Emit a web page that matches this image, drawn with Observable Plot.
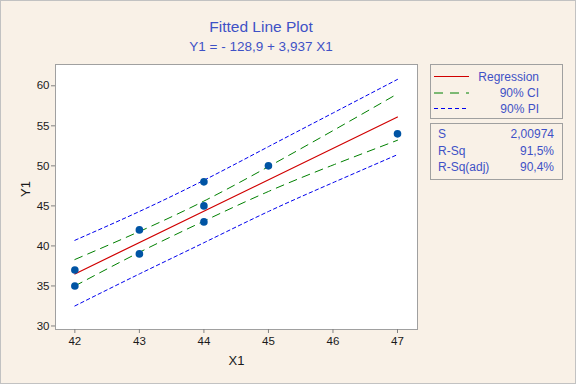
<!DOCTYPE html>
<html>
<head>
<meta charset="utf-8">
<script src="https://cdn.jsdelivr.net/npm/d3@7"></script>
<script src="https://cdn.jsdelivr.net/npm/@observablehq/plot@0.6"></script>
<style>
  html, body { margin: 0; padding: 0; }
  body { width: 576px; height: 384px; overflow: hidden; background: #F9F1E7; }
  #wrap { position: relative; width: 576px; height: 384px; background: #F9F1E7; font-family: "Liberation Sans", Arial, sans-serif; }
  #chart, #overlay { position: absolute; left: 0; top: 0; }
  #border { position: absolute; left: 0; top: 0; width: 576px; height: 384px; box-sizing: border-box; border: 1px solid #c2c2c2; pointer-events: none; }
</style>
</head>
<body>
<div id="wrap">
  <div id="chart"></div>
  <svg id="overlay" width="576" height="384"></svg>
  <div id="border"></div>
</div>
<script>
// ---- data ----
const xPoints = [42, 42, 43, 43, 44, 44, 44, 45, 47];
const yPoints = [35, 37, 39, 42, 43, 45, 48, 50, 54];

const regX = [42, 47];
const regY = [36.5, 56.1];

const bandX   = [42, 43, 44, 45, 46, 47];
const ciUpper = [38.3, 41.8, 45.6, 49.9, 54.4, 59.0];
const ciLower = [35.0, 39.2, 43.1, 46.8, 50.1, 53.2];
const piUpper = [40.7, 44.3, 48.2, 52.4, 56.6, 60.8];
const piLower = [32.5, 36.5, 40.4, 44.3, 47.9, 51.4];

const xTicks = [42, 43, 44, 45, 46, 47];
const yTicks = [30, 35, 40, 45, 50, 55, 60];

const titleText = "Fitted Line Plot";
const subtitleText = "Y1 = - 128,9 + 3,937 X1";
const xLabel = "X1";
const yLabel = "Y1";
const legendLabels = ["Regression", "90% CI", "90% PI"];
const statNames = ["S", "R-Sq", "R-Sq(adj)"];
const statValues = ["2,00974", "91,5%", "90,4%"];

// ---- build tables ----
const pts = xPoints.map((x, i) => ({x, y: yPoints[i]}));
const reg = regX.map((x, i) => ({x, y: regY[i]}));
const band = arr => bandX.map((x, i) => ({x, y: arr[i]}));

const fontFamily = '"Liberation Sans", Arial, sans-serif';

const chart = Plot.plot({
  width: 576,
  height: 384,
  marginLeft: 55,
  marginRight: 159,
  marginTop: 64,
  marginBottom: 55,
  style: {background: "transparent", fontFamily, fontSize: "11.5px", color: "#1a1a1a", overflow: "visible"},
  x: {domain: [41.7, 47.31]},
  y: {domain: [29.56, 62.66]},
  marks: [
    Plot.frame({fill: "white", stroke: "#a0a0a0"}),
    Plot.axisX(xTicks, {tickSize: 4, tickPadding: 3, stroke: "#808080", fill: "#1a1a1a", label: null}),
    Plot.axisY(yTicks, {tickSize: 4, tickPadding: 2, stroke: "#808080", fill: "#1a1a1a", label: null}),
    Plot.line(band(piUpper), {x: "x", y: "y", stroke: "#0000EE", strokeWidth: 1, strokeDasharray: "3.5,3", curve: "natural"}),
    Plot.line(band(piLower), {x: "x", y: "y", stroke: "#0000EE", strokeWidth: 1, strokeDasharray: "3.5,3", curve: "natural"}),
    Plot.line(band(ciUpper), {x: "x", y: "y", stroke: "#008000", strokeWidth: 1, strokeDasharray: "8,6", curve: "natural"}),
    Plot.line(band(ciLower), {x: "x", y: "y", stroke: "#008000", strokeWidth: 1, strokeDasharray: "8,6", curve: "natural"}),
    Plot.line(reg, {x: "x", y: "y", stroke: "#D00000", strokeWidth: 1.2}),
    Plot.dot(pts, {x: "x", y: "y", r: 3.8, fill: "#0054A4", stroke: "none"}),
    Plot.text([xLabel], {frameAnchor: "bottom", dy: 31, text: d => d, fontSize: 13, fill: "#1a1a1a", lineAnchor: "middle"}),
    Plot.text([yLabel], {frameAnchor: "left", dx: -30, text: d => d, fontSize: 13, fill: "#1a1a1a", rotate: -90, lineAnchor: "middle"})
  ]
});
document.getElementById("chart").appendChild(chart);

// ---- title, legend and statistics box ----
const ov = d3.select("#overlay").style("font-family", fontFamily);
const blue = "#3F51C6";

ov.append("text").attr("x", 261).attr("y", 31.5).attr("text-anchor", "middle")
  .attr("font-size", 15.5).attr("fill", blue).text(titleText);
ov.append("text").attr("x", 261).attr("y", 50.5).attr("text-anchor", "middle")
  .attr("font-size", 13.5).attr("fill", blue).text(subtitleText);

// legend box
ov.append("rect").attr("x", 430.5).attr("y", 64.5).attr("width", 132).attr("height", 54)
  .attr("fill", "none").attr("stroke", "#a0a0a0");
const legStyles = [
  {stroke: "#D00000", dash: null},
  {stroke: "#008000", dash: "9,7"},
  {stroke: "#0000EE", dash: "4,3"}
];
const legY = [76.5, 93, 108.5];
legendLabels.forEach((lab, i) => {
  const ln = ov.append("line").attr("x1", 434).attr("x2", 469)
    .attr("y1", legY[i]).attr("y2", legY[i]).attr("stroke", legStyles[i].stroke).attr("stroke-width", 1);
  if (legStyles[i].dash) ln.attr("stroke-dasharray", legStyles[i].dash);
  ov.append("text").attr("x", 539).attr("y", legY[i] + 4).attr("text-anchor", "end")
    .attr("font-size", 12).attr("fill", blue).text(lab);
});

// stats box
ov.append("rect").attr("x", 430.5).attr("y", 123.5).attr("width", 132).attr("height", 56)
  .attr("fill", "none").attr("stroke", "#a0a0a0");
const statY = [138, 154.5, 171];
statNames.forEach((nm, i) => {
  ov.append("text").attr("x", 438).attr("y", statY[i]).attr("font-size", 12).attr("fill", blue).text(nm);
  ov.append("text").attr("x", 554).attr("y", statY[i]).attr("text-anchor", "end")
    .attr("font-size", 12).attr("fill", blue).text(statValues[i]);
});
</script>
</body>
</html>
